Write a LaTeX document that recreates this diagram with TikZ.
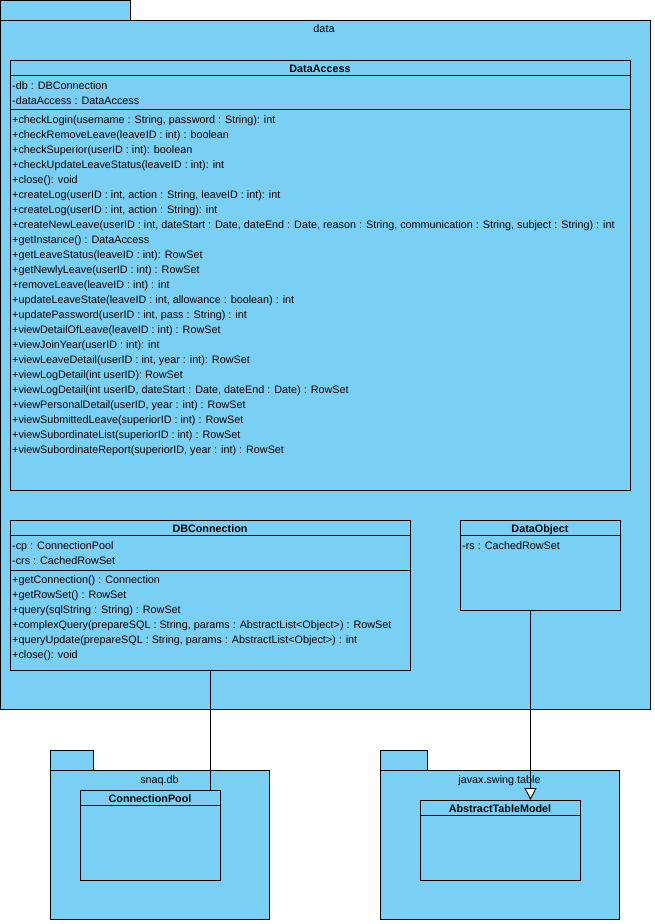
\documentclass[tikz,border=0pt]{standalone}
\usepackage{fontspec}
\setmainfont{Liberation Sans}
\usetikzlibrary{arrows.meta}
\definecolor{umlblue}{RGB}{122,207,245}
\tikzstyle{package}=[draw, fill=umlblue, line width=0.9pt, anchor=north west, inner sep=0pt]
\tikzstyle{umlclass}=[draw, fill=umlblue, line width=0.9pt, anchor=north west, inner sep=0pt]
\tikzstyle{member}=[anchor=base west, inner sep=0pt, font=\fontsize{10.8}{12}\selectfont]
\tikzstyle{classname}=[anchor=base, inner sep=0pt, font=\bfseries\fontsize{10.8}{12}\selectfont]
\tikzstyle{pkgname}=[anchor=base, inner sep=0pt, font=\fontsize{10.8}{12}\selectfont]
\tikzstyle{link}=[line width=0.9pt]

\begin{document}
\begin{tikzpicture}[x=1pt, y=-1pt]
    \useasboundingbox (0,0) rectangle (654,924);
    % package data
    \node[package, minimum width=130pt, minimum height=20pt] (datatab) at (0,0) {};
    \node[package, minimum width=650pt, minimum height=689pt] (data) at (0,20) {};
    \node[pkgname] (dataname) at (324,32) {data};

    % DataAccess
    \node[umlclass, minimum width=620pt, minimum height=430pt] (DataAccess) at (10,60) {};
    \node[classname] (DataAccessname) at (320,72) {DataAccess};
    \draw[link] (10,75) -- (630,75);
    \node[member] (daa1) at (12,89) {-db : DBConnection};
    \node[member] (daa2) at (12,104) {-dataAccess : DataAccess};
    \draw[link] (10,109) -- (630,109);
    \foreach \m [count=\i from 0] in {
        {+checkLogin(username : String, password : String): int},
        {+checkRemoveLeave(leaveID : int) : boolean},
        {+checkSuperior(userID : int): boolean},
        {+checkUpdateLeaveStatus(leaveID : int): int},
        {+close():  void},
        {+createLog(userID : int, action : String, leaveID : int): int},
        {+createLog(userID : int, action : String): int},
        {+createNewLeave(userID : int, dateStart : Date, dateEnd : Date, reason : String, communication : String, subject : String) : int},
        {+getInstance() : DataAccess},
        {+getLeaveStatus(leaveID : int): RowSet},
        {+getNewlyLeave(userID : int) : RowSet},
        {+removeLeave(leaveID : int) : int},
        {+updateLeaveState(leaveID : int, allowance : boolean) : int},
        {+updatePassword(userID : int, pass : String) : int},
        {+viewDetailOfLeave(leaveID : int) : RowSet},
        {+viewJoinYear(userID : int): int},
        {+viewLeaveDetail(userID : int, year : int): RowSet},
        {+viewLogDetail(int userID): RowSet},
        {+viewLogDetail(int userID, dateStart : Date, dateEnd : Date) : RowSet},
        {+viewPersonalDetail(userID, year : int) : RowSet},
        {+viewSubmittedLeave(superiorID : int) : RowSet},
        {+viewSubordinateList(superiorID : int) : RowSet},
        {+viewSubordinateReport(superiorID, year : int) : RowSet}}
      \node[member] (dam\i) at (12,{123+15*\i}) {\m};

    % DBConnection
    \node[umlclass, minimum width=400pt, minimum height=150pt] (DBConnection) at (10,520) {};
    \node[classname] (DBConnectionname) at (210,532) {DBConnection};
    \draw[link] (10,535) -- (410,535);
    \node[member] (dba1) at (12,549) {-cp : ConnectionPool};
    \node[member] (dba2) at (12,564) {-crs : CachedRowSet};
    \draw[link] (10,570) -- (410,570);
    \foreach \m [count=\i from 0] in {
        {+getConnection() : Connection},
        {+getRowSet() : RowSet},
        {+query(sqlString : String) : RowSet},
        {+complexQuery(prepareSQL : String, params : AbstractList<Object>) : RowSet},
        {+queryUpdate(prepareSQL : String, params : AbstractList<Object>) : int},
        {+close():  void}}
      \node[member] (dbm\i) at (12,{583+15*\i}) {\m};

    % DataObject
    \node[umlclass, minimum width=160pt, minimum height=90pt] (DataObject) at (460,520) {};
    \node[classname] (DataObjectname) at (540,532) {DataObject};
    \draw[link] (460,535) -- (620,535);
    \node[member] (doa1) at (462,549) {-rs : CachedRowSet};

    % package snaq.db
    \node[package, minimum width=43pt, minimum height=20pt] (snaqtab) at (50,750) {};
    \node[package, minimum width=219pt, minimum height=149pt] (snaq) at (50,770) {};
    \node[pkgname] (snaqname) at (159.5,783) {snaq.db};
    \node[umlclass, minimum width=140pt, minimum height=90pt] (ConnectionPool) at (80,790) {};
    \node[classname] (ConnectionPoolname) at (150,802) {ConnectionPool};
    \draw[link] (80,805) -- (220,805);

    % package javax.swing.table
    \node[package, minimum width=47pt, minimum height=20pt] (swingtab) at (380,750) {};
    \node[package, minimum width=239pt, minimum height=149pt] (swing) at (380,770) {};
    \node[pkgname] (swingname) at (499.5,783) {javax.swing.table};
    \node[umlclass, minimum width=160pt, minimum height=80pt] (AbstractTableModel) at (420,800) {};
    \node[classname] (AbstractTableModelname) at (500,812) {AbstractTableModel};
    \draw[link] (420,815) -- (580,815);

    % links
    \draw[link] (DBConnection.south) -- (DBConnection.south |- ConnectionPool.north);
    \coordinate (dostart) at ([xshift=-10pt]DataObject.south);
    \draw[link, -{Triangle[length=12pt, width=12pt, fill=white]}] (dostart) -- (dostart |- AbstractTableModel.north);
\end{tikzpicture}
\end{document}
